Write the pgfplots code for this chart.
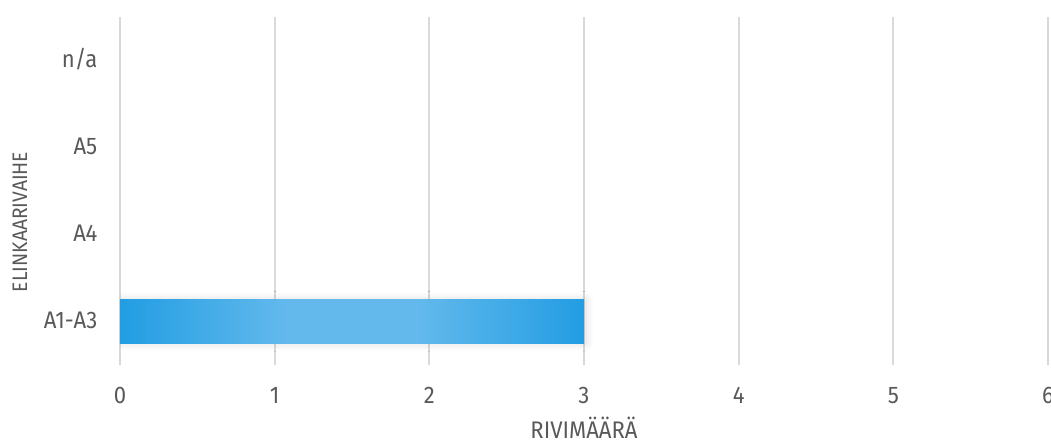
\documentclass[border=0pt]{standalone}
\usepackage{pgfplots}
\pgfplotsset{compat=1.18}
\usepackage{fontspec}
\setmainfont{Fira Sans}[FakeStretch=0.92]
\usetikzlibrary{shadows.blur}

\definecolor{textgray}{HTML}{595959}
\definecolor{gridgray}{HTML}{D9D9D9}
\definecolor{bardark}{HTML}{229DE3}
\definecolor{barlight}{HTML}{63B9EC}

% dark ends, light plateau in the middle of the bar
% (the path's box is mapped onto 25bp--75bp of the shading)
\pgfdeclarehorizontalshading{barshade}{100bp}{%
  color(0bp)=(bardark); color(25bp)=(bardark); color(43bp)=(barlight);
  color(57bp)=(barlight); color(75bp)=(bardark); color(100bp)=(bardark)}

\pgfplotstableread{
pos  count
0    3
1    0
2    0
3    0
}\phasedata

\begin{document}
\begin{tikzpicture}
\begin{axis}[
  scale only axis,
  width=464pt, height=174pt,
  xmin=0, xmax=6, ymin=-0.5, ymax=3.5,
  xtick={0,1,2,3,4,5,6},
  ytick={0,1,2,3},
  yticklabels={A1-A3,A4,A5,n/a},
  axis line style={draw=none},
  major tick length=0pt,
  xmajorgrids,
  grid style={draw=gridgray, line width=1pt},
  /pgf/number format/assume math mode=true,
  font=\fontsize{12}{14}\selectfont,
  every tick label/.append style={text=textgray, inner sep=0pt},
  xticklabel style={anchor=base, yshift=-19.5pt},
  yticklabel style={anchor=base east, xshift=-11.15pt, yshift=-3.7pt},
  xlabel={RIVIMÄÄRÄ},
  ylabel={ELINKAARIVAIHE},
  xlabel style={at={(axis description cs:0.5,-0.211)}, anchor=base, text=textgray, inner sep=0pt},
  ylabel style={at={(axis description cs:-0.1002,0.411)}, anchor=base, text=textgray, inner sep=0pt,
    font=\fontsize{10.5}{12}\selectfont},
  xbar, bar width=0.5,
]
\addplot[xbar, draw=none, shading=barshade,
  blur shadow={shadow xshift=1pt, shadow yshift=0pt, shadow blur radius=4pt, shadow opacity=15},
  x filter/.expression={x==0 ? nan : x}]
  table[x=count, y=pos] {\phasedata};
\coordinate (O) at (rel axis cs:0,0);
\end{axis}
\pgfresetboundingbox
\path[use as bounding box] ([xshift=-60pt,yshift=-39pt]O) rectangle ++(525.5pt,221.5pt);
\end{tikzpicture}
\end{document}
